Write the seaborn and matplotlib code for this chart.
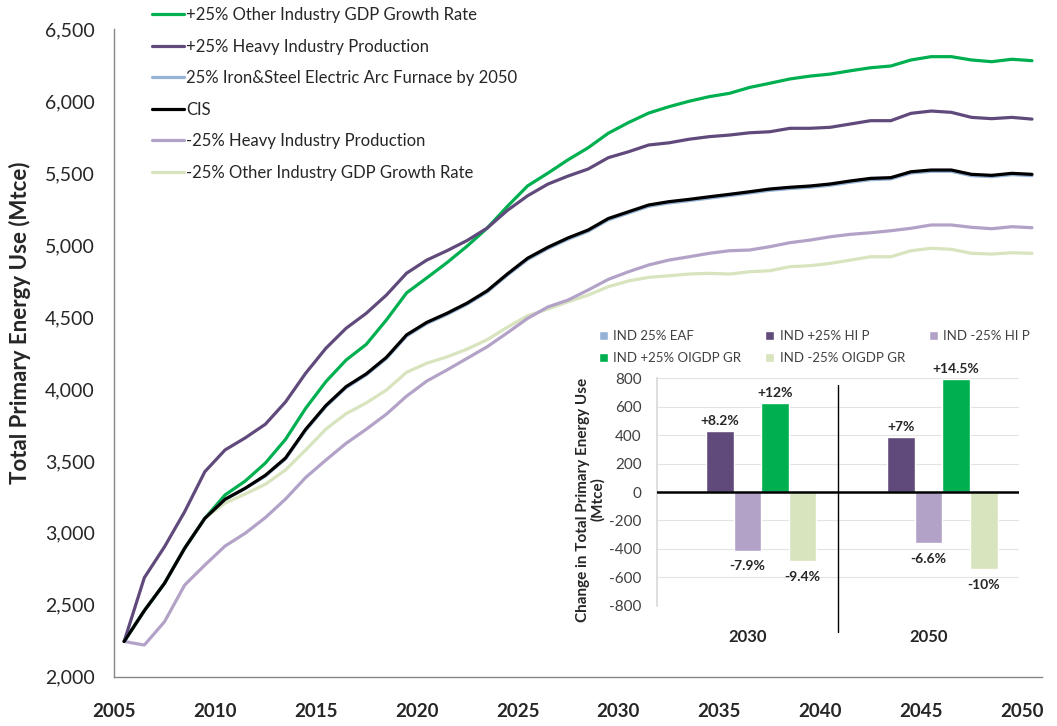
import numpy as np
import pandas as pd
import matplotlib
matplotlib.use("Agg")
import matplotlib.pyplot as plt
import seaborn as sns

years = np.arange(2005, 2051)

oigdp_up = [2245, 2459, 2649, 2893, 3101, 3263, 3360, 3485, 3650, 3866,
            4051, 4201, 4310, 4480, 4668, 4772, 4878, 4993, 5119, 5270,
            5412, 5500, 5593, 5677, 5778, 5852, 5918, 5962, 6000, 6032,
            6055, 6096, 6125, 6155, 6175, 6189, 6212, 6233, 6245, 6287,
            6310, 6310, 6287, 6275, 6292, 6282]
hi_up = [2245, 2688, 2903, 3147, 3425, 3576, 3660, 3755, 3910, 4110,
         4283, 4422, 4526, 4653, 4805, 4896, 4961, 5032, 5119, 5242,
         5343, 5424, 5480, 5529, 5608, 5649, 5696, 5711, 5736, 5754,
         5765, 5781, 5788, 5812, 5812, 5819, 5842, 5865, 5865, 5916,
         5932, 5923, 5888, 5879, 5888, 5876]
eaf = [2245, 2459, 2649, 2893, 3101, 3233, 3308, 3395, 3514, 3713,
       3878, 4009, 4098, 4212, 4368, 4455, 4518, 4589, 4675, 4792,
       4900, 4976, 5041, 5096, 5176, 5223, 5270, 5293, 5309, 5327,
       5344, 5362, 5381, 5393, 5402, 5416, 5437, 5455, 5460, 5501,
       5513, 5513, 5483, 5476, 5490, 5483]
cis = [2245, 2459, 2649, 2893, 3101, 3233, 3310, 3400, 3520, 3720,
       3885, 4016, 4105, 4220, 4376, 4463, 4526, 4597, 4683, 4800,
       4909, 4985, 5050, 5105, 5185, 5232, 5279, 5302, 5318, 5336,
       5353, 5371, 5390, 5402, 5411, 5425, 5446, 5464, 5469, 5510,
       5522, 5522, 5492, 5485, 5499, 5492]
hi_down = [2245, 2220, 2382, 2637, 2776, 2908, 2997, 3106, 3235, 3385,
           3506, 3622, 3720, 3825, 3950, 4055, 4132, 4213, 4294, 4391,
           4491, 4570, 4618, 4688, 4762, 4815, 4862, 4896, 4919, 4943,
           4961, 4966, 4989, 5017, 5035, 5058, 5075, 5086, 5100, 5117,
           5140, 5140, 5124, 5114, 5128, 5121]
oigdp_down = [2245, 2459, 2649, 2893, 3101, 3207, 3270, 3338, 3437, 3576,
              3721, 3828, 3903, 3993, 4116, 4179, 4223, 4277, 4343, 4430,
              4509, 4555, 4606, 4653, 4711, 4751, 4776, 4787, 4799, 4804,
              4799, 4815, 4822, 4850, 4857, 4873, 4896, 4919, 4919, 4961,
              4978, 4971, 4943, 4938, 4947, 4943]

line_labels = ["+25% Other Industry GDP Growth Rate",
               "+25% Heavy Industry Production",
               "25% Iron&Steel Electric Arc Furnace by 2050",
               "CIS",
               "-25% Heavy Industry Production",
               "-25% Other Industry GDP Growth Rate"]
line_colors = ["#00B050", "#604A7B", "#95B3D7", "#000000", "#B3A2C7", "#D7E4BD"]

bar_periods = ["2030", "2050"]
bar_scenarios = ["IND 25% EAF", "IND +25% HI P", "IND -25% HI P",
                 "IND +25% OIGDP GR", "IND -25% OIGDP GR"]
bar_colors = ["#95B3D7", "#604A7B", "#B3A2C7", "#00B050", "#D7E4BD"]
bar_2030 = [-6, 428, -412, 624, -487]
bar_2050 = [-9, 384, -360, 795, -544]
pct_2030 = ["", "+8.2%", "-7.9%", "+12%", "-9.4%"]
pct_2050 = ["", "+7%", "-6.6%", "+14.5%", "-10%"]

sns.set_theme(style="white")
plt.rcParams["font.family"] = ["Lato", "DejaVu Sans"]

fig = plt.figure(figsize=(10.57, 7.26), dpi=100)
ax = fig.add_axes([0.1079, 0.0679, 0.878, 0.8917])

series = [oigdp_up, hi_up, eaf, cis, hi_down, oigdp_down]
draw_order = [5, 4, 0, 1, 2, 3]
for i in draw_order:
    sns.lineplot(x=years, y=series[i], color=line_colors[i], lw=2.3,
                 label=line_labels[i], ax=ax)

ax.set_xlim(2004.5, 2050.5)
ax.set_ylim(2000, 6500)
ax.set_xticks(np.arange(2004.5, 2050, 5))
ax.set_xticklabels([str(y) for y in range(2005, 2051, 5)],
                   fontsize=13.5, fontweight="bold")
ax.set_yticks(np.arange(2000, 6501, 500))
ax.set_yticklabels([f"{v:,}" for v in range(2000, 6501, 500)], fontsize=14)
ax.tick_params(axis="x", length=5, width=1, color="#868686", pad=14, direction="out")
ax.tick_params(axis="y", length=5, width=1, color="#868686", pad=9, direction="out")
for s in ["top", "right"]:
    ax.spines[s].set_visible(False)
for s in ["left", "bottom"]:
    ax.spines[s].set_color("#868686")
    ax.spines[s].set_linewidth(1)
ax.set_xlabel("")
ax.set_ylabel("")
fig.text(0.019, 0.556, "Total Primary Energy Use (Mtce)", rotation=90,
         ha="center", va="center", fontsize=16, fontweight="bold")

h, l = ax.get_legend_handles_labels()
lookup = dict(zip(l, h))
ax.get_legend().remove()
fig.legend([lookup[k] for k in line_labels], line_labels, loc="upper left",
           bbox_to_anchor=(0.1438, 0.990), frameon=False, fontsize=12,
           handlelength=1.95, handletextpad=0.1, labelspacing=0.93,
           borderaxespad=0, borderpad=0)

# inset bar chart
axin = fig.add_axes([0.6213, 0.1657, 0.343, 0.3132])
df_bar = pd.DataFrame({
    "period": np.repeat(bar_periods, len(bar_scenarios)),
    "scenario": bar_scenarios * 2,
    "change": bar_2030 + bar_2050,
})
sns.barplot(data=df_bar, x="period", y="change", hue="scenario",
            hue_order=bar_scenarios, palette=bar_colors, width=0.76,
            saturation=1, ax=axin)
bh, bl = axin.get_legend_handles_labels()
axin.get_legend().remove()

for j, cont in enumerate(axin.containers):
    for patch, lab in zip(cont, [pct_2030[j], pct_2050[j]]):
        if not lab:
            continue
        xc = patch.get_x() + patch.get_width() / 2
        y0, y1 = sorted([patch.get_y(), patch.get_y() + patch.get_height()])
        if y1 > 0:
            axin.annotate(lab, (xc, y1), xytext=(0, 3),
                          textcoords="offset points", ha="center", va="bottom",
                          fontsize=10, fontweight="bold", color="#262626")
        else:
            axin.annotate(lab, (xc, y0), xytext=(0, -7),
                          textcoords="offset points", ha="center", va="top",
                          fontsize=10, fontweight="bold", color="#262626")

axin.set_ylim(-800, 800)
axin.set_yticks(np.arange(-800, 801, 200))
axin.set_yticklabels([str(v) for v in range(-800, 801, 200)], fontsize=11, color="#404040")
axin.set_xticks([0, 1])
axin.set_xticklabels(bar_periods, fontsize=12, fontweight="bold", color="#262626")
axin.tick_params(axis="both", length=0)
axin.tick_params(axis="x", pad=17)
axin.tick_params(axis="y", pad=11)
axin.grid(axis="y", color="#e3e3e3", lw=0.8)
axin.set_axisbelow(True)
for s in ["top", "right", "bottom"]:
    axin.spines[s].set_visible(False)
axin.spines["left"].set_color("#d9d9d9")
axin.axhline(0, color="black", lw=1.8, zorder=3)
axin.plot([0.5, 0.5], [-0.114, 0.969], color="black", lw=1,
          transform=axin.get_xaxis_transform(), clip_on=False)
axin.set_xlabel("")
axin.set_ylabel("")
axin.set_xlim(-0.5, 1.5)
fig.text(0.5585, 0.312, "Change in Total Primary Energy Use\n(Mtce)", rotation=90,
         ha="center", va="center", multialignment="center",
         fontsize=11, fontweight="bold", color="#262626", linespacing=1.05)

order = [0, 3, 1, 4, 2]
fig.legend([bh[i] for i in order], [bl[i] for i in order], loc="upper left",
           bbox_to_anchor=(0.5665, 0.5455), ncol=3, frameon=False, fontsize=9.5,
           handlelength=0.7, handleheight=0.7, handletextpad=0.4,
           columnspacing=1.8, labelspacing=0.75, borderaxespad=0, borderpad=0,
           labelcolor="#404040")

fig.savefig("out.png", dpi=100)
